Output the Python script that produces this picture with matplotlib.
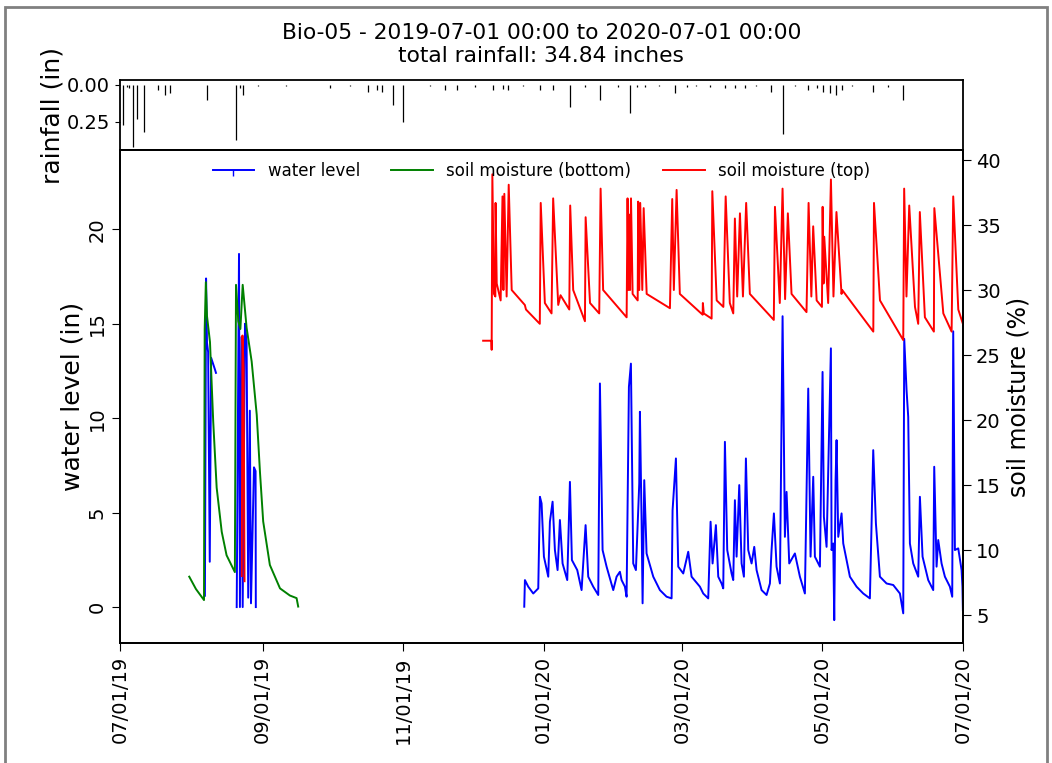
import numpy as np
import matplotlib
matplotlib.use("Agg")
import matplotlib.pyplot as plt
import matplotlib.dates as mdates
from matplotlib.lines import Line2D
from matplotlib.patches import Rectangle

# days since 2019-07-01 00:00
inicio = np.datetime64("2019-07-01T00:00")

# lluvia (in)
lluvia_dias = [1.45, 3.0, 4.0, 5.5, 7.2, 10.6, 16.6, 19.5, 21.7, 37.6, 50.6, 52.1, 53.6, 60.0, 72.0,
               91.2, 100.0, 107.8, 111.4, 113.6, 118.7, 123.0, 134.6, 141.1, 146.2, 154.1, 162.1,
               166.4, 168.6, 175.0, 182.3, 187.9, 195.4, 201.9, 208.4, 216.4, 221.4, 224.3, 227.9,
               234.0, 241.0, 246.0, 250.0, 256.2, 262.7, 267.1, 271.4, 276.0, 282.9, 288.0, 293.0,
               298.8, 302.5, 305.4, 308.3, 310.7, 313.3, 318.0, 327.1, 333.6, 340.1]
lluvia = [0.27, 0.015, 0.02, 0.42, 0.23, 0.32, 0.034, 0.068, 0.055, 0.10, 0.375, 0.02, 0.068, 0.01, 0.01,
          0.02, 0.01, 0.045, 0.034, 0.045, 0.136, 0.25, 0.01, 0.034, 0.034, 0.015, 0.034,
          0.025, 0.034, 0.01, 0.034, 0.034, 0.148, 0.015, 0.10, 0.015, 0.19, 0.015, 0.015,
          0.01, 0.055, 0.015, 0.01, 0.015, 0.02, 0.02, 0.02, 0.01, 0.045, 0.33, 0.01,
          0.034, 0.02, 0.045, 0.055, 0.068, 0.034, 0.01, 0.045, 0.015, 0.10]

# nivel de agua (in)
agua_dias_1 = [36.9, 37.4, 37.8, 38.3, 39.0, 39.6, 41.2, 41.7]
agua_1 = [0.6, 17.4, 14.0, 13.5, 2.4, 13.2, 12.6, 12.4]
agua_dias_2 = [50.7, 51.7, 52.1, 52.8, 53.3, 54.3, 55.0, 55.7, 56.4, 56.9, 58.2, 58.9, 59.0]
agua_2 = [0.0, 18.7, 0.0, 14.3, 0.0, 15.0, 14.0, 0.5, 10.4, 0.2, 7.4, 7.2, 0.0]
agua_dias_3 = [175.55, 175.84, 177.29, 179.46, 181.63, 182.35, 183.07, 184.09, 185.97, 186.69,
               187.85, 188.86, 190.02, 191.03, 192.19, 194.22, 195.38, 196.24, 198.56, 200.44,
               202.18, 203.33, 205.50, 207.68, 208.40, 209.56, 211.30, 214.19, 215.64, 217.08,
               217.81, 219.25, 219.98, 220.99, 221.86, 222.87, 224.03, 225.48, 225.77, 226.49,
               226.93, 227.65, 228.66, 231.56, 234.45, 237.34, 239.52, 239.95, 241.40, 242.41,
               244.58, 246.75, 248.20, 251.82, 253.26, 255.43, 256.45, 257.32, 258.76, 259.78,
               261.22, 261.95, 262.67, 263.68, 265.57, 266.29, 267.01, 267.74, 268.90, 269.91,
               270.92, 271.79, 272.80, 274.25, 275.41, 276.42, 278.59, 280.76, 282.21, 282.93,
               283.94, 285.10, 286.55, 287.71, 288.72, 289.44, 290.60, 293.06, 295.23, 297.40,
               298.85, 299.86, 301.02, 301.74, 303.92, 305.07, 305.65, 306.81, 308.69, 308.98,
               309.70, 310.14, 310.72, 311.15, 311.88, 313.32, 314.05, 316.94, 319.84, 322.73,
               325.62, 327.07, 328.23, 329.97, 332.86, 335.75, 338.65, 340.10, 340.53, 341.54,
               342.26, 342.99, 344.44, 346.61, 347.33, 348.49, 350.95, 353.12, 353.55, 354.57,
               355.29, 356.74, 358.19, 360.36, 361.37, 361.80, 362.53, 363.98, 365.43, 365.8,
               366.0]
agua_3 = [0.02, 1.43, 1.08, 0.72, 0.99, 5.84, 5.49, 2.67, 1.61, 4.52,
          5.58, 3.02, 1.96, 4.61, 2.31, 1.43, 6.63, 2.49, 1.96, 0.90,
          4.34, 1.61, 1.08, 0.64, 11.84, 3.02, 2.14, 0.90, 1.61, 1.87,
          1.43, 1.08, 0.55, 11.66, 12.89, 2.31, 1.96, 6.55, 10.34, 4.61,
          0.20, 6.72, 2.84, 1.61, 0.90, 0.55, 0.46, 5.13, 7.87, 2.14,
          1.78, 2.93, 1.61, 1.08, 0.72, 0.46, 4.52, 2.31, 4.34, 1.61,
          1.25, 0.99, 8.75, 3.02, 1.78, 1.43, 5.66, 2.67, 6.46, 2.31,
          1.61, 7.87, 3.02, 2.31, 3.19, 1.96, 0.90, 0.64, 1.25, 3.02,
          4.96, 2.14, 1.25, 15.4, 3.72, 6.10, 2.31, 2.84, 1.61, 0.72,
          11.57, 2.67, 6.90, 2.67, 2.14, 12.45, 4.78, 3.19, 13.7, 3.02,
          3.37, -0.69, 6.72, 8.84, 3.72, 4.96, 3.37, 1.61, 1.08, 0.72,
          0.46, 8.31, 4.43, 1.61, 1.25, 1.17, 0.72, -0.33, 14.2, 11.48,
          10.07, 3.37, 2.31, 1.61, 5.84, 2.67, 1.43, 0.90, 7.43, 2.14,
          3.55, 2.31, 1.61, 1.08, 0.55, 14.6, 3.02, 3.11, 1.96, 1.08,
          -0.16]

# humedad del suelo, abajo (%)
fondo_dias = [30.1, 33.0, 36.5, 36.8, 37.3, 37.8, 39.1, 40.5, 42.0, 44.2, 46.3, 49.9, 50.4, 51.4,
              52.3, 53.3, 55.0, 57.2, 59.4, 60.8, 62.2, 65.1, 69.5, 73.8, 76.7, 77.4]
fondo = [7.95, 7.0, 6.15, 27.0, 30.6, 28.0, 26.0, 19.9, 14.8, 11.4, 9.6, 8.3, 30.4, 27.6,
         27.0, 30.4, 27.1, 24.5, 20.4, 16.0, 12.2, 8.85, 7.05, 6.5, 6.3, 5.65]

# humedad del suelo, arriba (%)
arriba_dias_1 = [52.9, 53.2, 53.7, 54.1]
arriba_1 = [8.0, 26.5, 24.0, 7.6]
arriba_dias_2 = [157.7, 161.3, 161.4, 161.7, 162.4, 163.0, 163.1, 163.6, 165.3, 166.1, 166.5, 166.9,
                 167.9, 168.8, 170.1, 175.8, 176.3, 182.3, 182.7, 184.5, 187.4, 188.1, 190.3, 191.3,
                 195.1, 195.5, 196.8, 201.9, 202.2, 204.1, 208.1, 208.7, 209.8, 220.0, 220.4, 220.8,
                 221.1, 221.5, 221.9, 222.6, 224.8, 225.0, 225.5, 225.9, 226.8, 227.4, 228.7, 238.8,
                 239.8, 240.5, 241.7, 243.1, 253.0, 253.1, 253.5, 256.9, 257.2, 259.1, 262.0, 263.0,
                 264.8, 266.3, 267.0, 268.0, 269.2, 270.5, 271.9, 273.5, 283.9, 284.4, 286.5, 287.7,
                 288.8, 290.0, 291.6, 298.1, 299.0, 300.2, 301.0, 302.5, 304.8, 305.1, 305.5, 305.8,
                 307.5, 308.7, 309.8, 311.1, 313.3, 313.6, 327.1, 327.4, 330.0, 340.1, 340.5, 341.5,
                 342.7, 345.2, 346.6, 347.3, 349.5, 353.4, 353.6, 357.5, 361.1, 361.8, 364.0, 366.0]
arriba_2 = [26.1, 26.1, 25.4, 38.9, 29.7, 29.5, 36.7, 30.5, 29.2, 37.2, 30.0, 37.4,
            29.5, 38.1, 30.0, 28.85, 28.5, 27.4, 36.7, 29.0, 28.2, 37.05, 28.85, 29.6,
            28.5, 36.5, 30.0, 27.6, 35.6, 29.0, 28.2, 37.8, 30.0, 27.9, 37.05, 30.0,
            35.8, 30.0, 37.05, 29.7, 29.2, 36.8, 30.0, 36.7, 30.0, 36.3, 29.7, 28.6,
            37.0, 30.0, 37.7, 29.7, 28.1, 29.0, 28.2, 27.8, 37.6, 29.2, 28.7, 37.2,
            29.0, 28.2, 35.5, 29.5, 35.9, 29.5, 36.7, 29.7, 27.7, 36.4, 29.0, 37.8,
            29.3, 35.9, 29.7, 28.3, 36.7, 29.5, 34.9, 29.2, 28.7, 36.4, 30.5, 34.1,
            29.0, 38.5, 29.5, 36.0, 29.7, 30.0, 26.8, 36.7, 29.2, 26.15, 37.8, 29.5,
            36.5, 28.7, 27.4, 36.0, 27.9, 26.8, 36.3, 28.2, 26.8, 37.2, 28.5, 27.4]


def fechas(dias):
    return inicio + (np.array(dias) * 24 * 60).astype("timedelta64[m]")


fig = plt.figure(figsize=(10.52, 7.63), dpi=100)
ax_r = fig.add_axes([0.114, 0.8034, 0.8013, 0.0917])
ax = fig.add_axes([0.114, 0.1573, 0.8013, 0.6461], sharex=ax_r)
ax2 = ax.twinx()

grosor = 1.4

# lluvia arriba
ax_r.vlines(fechas(lluvia_dias), 0, lluvia, color="black", lw=0.9)
ax_r.set_ylim(0.44, -0.033)
ax_r.set_yticks([0.0, 0.25])
ax_r.set_yticklabels(["0.00", "0.25"], fontsize=14)
ax_r.set_ylabel("rainfall (in)", fontsize=18, labelpad=2)
ax_r.tick_params(axis="x", bottom=False, labelbottom=False)
ax_r.set_title("Bio-05 - 2019-07-01 00:00 to 2020-07-01 00:00\ntotal rainfall: 34.84 inches",
               fontsize=15.7, pad=13, linespacing=1.2)

# nivel de agua
ax.plot(fechas(agua_dias_1), agua_1, color="blue", lw=grosor)
ax.plot(fechas(agua_dias_2), agua_2, color="blue", lw=grosor)
ax.plot(fechas(agua_dias_3), agua_3, color="blue", lw=grosor)
ax.set_ylim(-1.9, 24.2)
ax.set_yticks([0, 5, 10, 15, 20])
ax.tick_params(axis="y", labelsize=14, labelrotation=90, length=6)
for t in ax.get_yticklabels():
    t.set_va("center")
ax.set_ylabel("water level (in)", fontsize=18, labelpad=2)

# humedad
ax2.plot(fechas(fondo_dias), fondo, color="green", lw=grosor)
ax2.plot(fechas(arriba_dias_1), arriba_1, color="red", lw=grosor)
ax2.plot(fechas(arriba_dias_2), arriba_2, color="red", lw=grosor)
ax2.set_ylim(2.85, 40.77)
ax2.set_yticks([5, 10, 15, 20, 25, 30, 35, 40])
ax2.tick_params(axis="y", labelsize=14, length=6)
ax2.set_ylabel("soil moisture (%)", fontsize=17)

ax.set_xlim(inicio, np.datetime64("2020-07-01T00:00"))
ax.xaxis.set_major_locator(mdates.MonthLocator(bymonth=[1, 3, 5, 7, 9, 11]))
ax.xaxis.set_major_formatter(mdates.DateFormatter("%m/%d/%y"))
ax.tick_params(axis="x", labelsize=14, labelrotation=90, length=6)

for a in (ax_r, ax, ax2):
    for s in a.spines.values():
        s.set_linewidth(1.3)

manejadores = [Line2D([], [], color="blue", lw=grosor, marker=3, markersize=4),
               Line2D([], [], color="green", lw=grosor),
               Line2D([], [], color="red", lw=grosor)]
ax2.legend(manejadores, ["water level", "soil moisture (bottom)", "soil moisture (top)"],
           loc="upper center", bbox_to_anchor=(0.5, 1.0), ncol=3, frameon=False,
           fontsize=12, columnspacing=1.9, handlelength=2.5, borderaxespad=0.3)

# marco gris de la captura
fig.patches.append(Rectangle((5 / 1052, -0.05), 1042 / 1052, 1.05 - 7 / 763,
                             transform=fig.transFigure, fill=False, edgecolor="#808080", lw=2))

plt.savefig("out.png", dpi=100)
